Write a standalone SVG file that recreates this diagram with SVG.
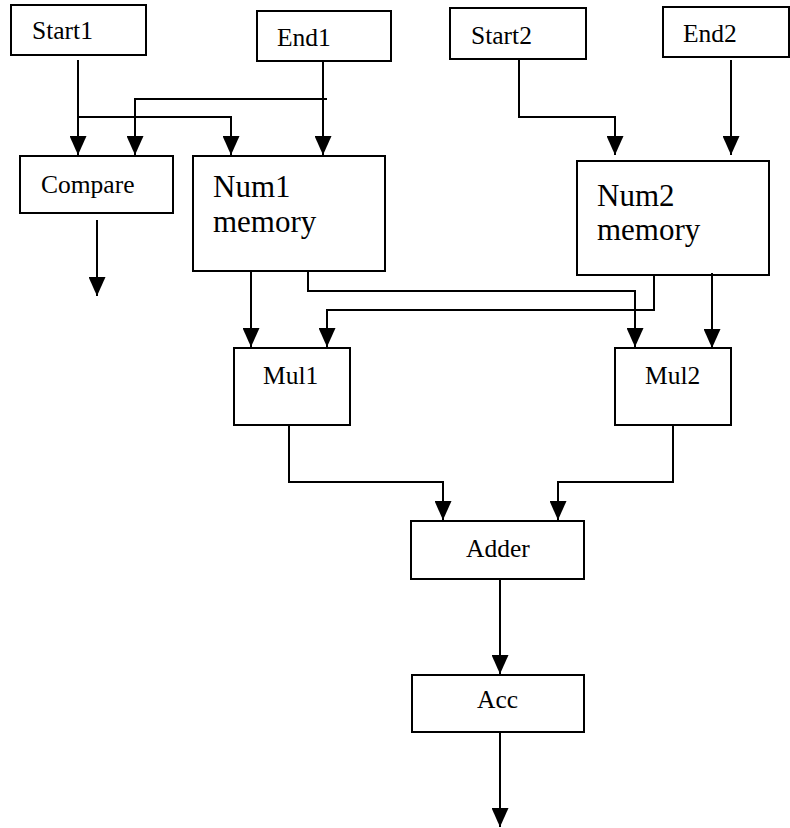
<svg xmlns="http://www.w3.org/2000/svg" width="790" height="828" viewBox="0 0 790 828">
  <style>
    .box { fill: #ffffff; stroke: #000000; stroke-width: 2; }
    .lbl { font-family: "Liberation Serif", "Times New Roman", serif; font-size: 25.5px; fill: #000000; }
    .big { font-family: "Liberation Serif", "Times New Roman", serif; font-size: 31px; fill: #000000; }
    .wire { fill: none; stroke: #000000; stroke-width: 2; marker-end: url(#arrow); }
  </style>
  <defs>
    <marker id="arrow" markerUnits="userSpaceOnUse" markerWidth="19" markerHeight="17" viewBox="0 0 19 17" refX="19" refY="8.5" orient="auto">
      <path d="M0,0 L19,8.5 L0,17 Z" fill="#000000"/>
    </marker>
  </defs>

  <rect width="790" height="828" fill="#ffffff"/>

  <!-- blocks -->
  <g id="start1">
    <rect class="box" x="11" y="5" width="135" height="50"/>
    <text class="lbl" x="32" y="39">Start1</text>
  </g>
  <g id="end1">
    <rect class="box" x="257" y="11" width="134" height="50"/>
    <text class="lbl" x="277" y="46">End1</text>
  </g>
  <g id="start2">
    <rect class="box" x="450" y="8" width="136" height="51"/>
    <text class="lbl" x="471" y="44">Start2</text>
  </g>
  <g id="end2">
    <rect class="box" x="663" y="7" width="126" height="50"/>
    <text class="lbl" x="683" y="42">End2</text>
  </g>
  <g id="compare">
    <rect class="box" x="20" y="156" width="153" height="57"/>
    <text class="lbl" x="41" y="193">Compare</text>
  </g>
  <g id="num1">
    <rect class="box" x="193" y="156" width="192" height="115"/>
    <text class="big" x="213" y="197">Num1</text>
    <text class="big" x="213" y="232">memory</text>
  </g>
  <g id="num2">
    <rect class="box" x="577" y="161" width="192" height="114"/>
    <text class="big" x="597" y="206">Num2</text>
    <text class="big" x="597" y="240">memory</text>
  </g>
  <g id="mul1">
    <rect class="box" x="234" y="348" width="116" height="77"/>
    <text class="lbl" x="263" y="384">Mul1</text>
  </g>
  <g id="mul2">
    <rect class="box" x="615" y="348" width="116" height="77"/>
    <text class="lbl" x="645" y="384">Mul2</text>
  </g>
  <g id="adder">
    <rect class="box" x="411" y="521" width="173" height="58"/>
    <text class="lbl" x="466" y="557">Adder</text>
  </g>
  <g id="acc">
    <rect class="box" x="412" y="675" width="172" height="57"/>
    <text class="lbl" x="477" y="708">Acc</text>
  </g>

  <!-- connectors -->
  <g id="connectors">
    <path class="wire" d="M78,60 V155"/>
    <path class="wire" d="M78,117 H231 V155"/>
    <path class="wire" d="M323,61 V155"/>
    <path class="wire" d="M327,99 H135 V155"/>
    <path class="wire" d="M97,220 V296"/>
    <path class="wire" d="M519,60 V117 H615 V155"/>
    <path class="wire" d="M731,60 V155"/>
    <path class="wire" d="M251,272 V347"/>
    <path class="wire" d="M308,272 V291 H635 V347"/>
    <path class="wire" d="M654,275 V310 H327 V347"/>
    <path class="wire" d="M712,273 V348"/>
    <path class="wire" d="M289,425 V482 H443 V520"/>
    <path class="wire" d="M673,425 V482 H558 V520"/>
    <path class="wire" d="M500,579 V674"/>
    <path class="wire" d="M500,732 V827"/>
  </g>
</svg>
